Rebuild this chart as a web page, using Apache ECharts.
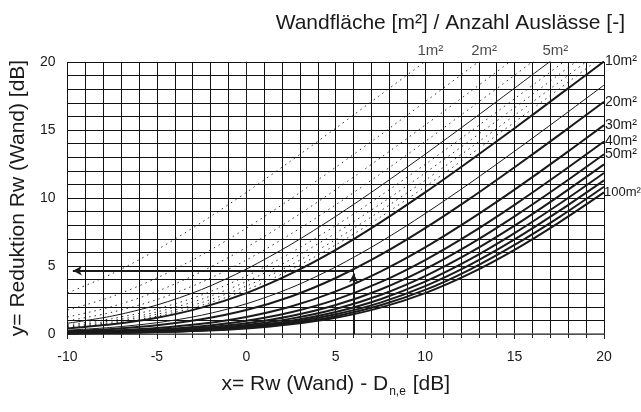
<!DOCTYPE html>
<html><head><meta charset="utf-8">
<script src="https://cdn.jsdelivr.net/npm/echarts/dist/echarts.min.js"></script>
<style>html,body{margin:0;padding:0;background:#fff}#c{width:641px;height:412px}</style>
</head><body><div id="c"></div>
<script>
// x = Rw(Wand) - Dn,e [dB]
const xValues = [-10, -7.5, -5, -2.5, 0, 2.5, 5, 7.5, 10, 12.5, 15, 17.5, 20];
// y = Reduktion [dB], one array per Wandfläche
const y1   = [3.01, 4.44, 6.19, 8.21, 10.41, 12.74, 15.13, 17.58, 20.04];
const y2   = [1.76, 2.76, 4.12, 5.81, 7.78, 9.95, 12.26, 14.64, 17.08, 19.54, 22.02];
const y3   = [1.25, 2.02, 3.13, 4.59, 6.37, 8.41, 10.62, 12.95, 15.36, 17.80, 20.27];
const y4   = [0.97, 1.60, 2.53, 3.81, 5.44, 7.36, 9.50, 11.78, 14.15, 16.58, 19.03, 21.51];
const y5   = [0.79, 1.32, 2.13, 3.27, 4.77, 6.59, 8.65, 10.88, 13.22, 15.63, 18.08, 20.55];
const y6   = [0.67, 1.13, 1.84, 2.87, 4.26, 5.98, 7.97, 10.16, 12.47, 14.86, 17.30, 19.76, 22.24];
const y7   = [0.58, 0.98, 1.62, 2.56, 3.85, 5.49, 7.42, 9.56, 11.84, 14.22, 16.64, 19.10, 21.58];
const y8   = [0.51, 0.87, 1.45, 2.31, 3.52, 5.08, 6.95, 9.05, 11.30, 13.66, 16.08, 18.53, 21.00];
const y9   = [0.46, 0.78, 1.31, 2.11, 3.24, 4.74, 6.55, 8.60, 10.83, 13.17, 15.58, 18.03, 20.50];
const y10  = [0.41, 0.71, 1.19, 1.94, 3.01, 4.44, 6.19, 8.21, 10.41, 12.74, 15.13, 17.58, 20.04];
const y15  = [0.28, 0.49, 0.83, 1.38, 2.22, 3.40, 4.93, 6.77, 8.85, 11.09, 13.44, 15.85, 18.30];
const y20  = [0.21, 0.37, 0.64, 1.08, 1.76, 2.76, 4.12, 5.81, 7.78, 9.95, 12.26, 14.64, 17.08];
const y30  = [0.14, 0.25, 0.44, 0.75, 1.25, 2.02, 3.13, 4.59, 6.37, 8.41, 10.62, 12.95, 15.36];
const y40  = [0.11, 0.19, 0.33, 0.57, 0.97, 1.60, 2.53, 3.81, 5.44, 7.36, 9.50, 11.78, 14.15];
const y50  = [0.09, 0.15, 0.27, 0.46, 0.79, 1.32, 2.13, 3.27, 4.77, 6.59, 8.65, 10.88, 13.22];
const y60  = [0.07, 0.13, 0.22, 0.39, 0.67, 1.13, 1.84, 2.87, 4.26, 5.98, 7.97, 10.16, 12.47];
const y70  = [0.06, 0.11, 0.19, 0.34, 0.58, 0.98, 1.62, 2.56, 3.85, 5.49, 7.42, 9.56, 11.84];
const y80  = [0.05, 0.10, 0.17, 0.30, 0.51, 0.87, 1.45, 2.31, 3.52, 5.08, 6.95, 9.05, 11.30];
const y90  = [0.05, 0.08, 0.15, 0.26, 0.46, 0.78, 1.31, 2.11, 3.24, 4.74, 6.55, 8.60, 10.83];
const y100 = [0.04, 0.08, 0.14, 0.24, 0.41, 0.71, 1.19, 1.94, 3.01, 4.44, 6.19, 8.21, 10.41];

const areas = [1, 2, 3, 4, 5, 6, 7, 8, 9, 10, 15, 20, 30, 40, 50, 60, 70, 80, 90, 100];
const curveValues = [y1, y2, y3, y4, y5, y6, y7, y8, y9, y10, y15, y20, y30, y40, y50, y60, y70, y80, y90, y100];
const dottedAreas = [1, 2, 3, 4, 6, 7, 8, 9];
const thinAreas = [5, 15];
const rightLabelAreas = [10, 20, 30, 40, 50, 100];
const topLabelAreas = [1, 2, 5];
const xTickLabels = ['-10', '-5', '0', '5', '10', '15', '20'];
const yTickLabels = ['0', '5', '10', '15', '20'];
// example arrow: x = 6 dB -> y about 4.65 dB (20 m² curve)
const exampleX = 6;
const exampleY = 4.65;

const FONT = 'Liberation Sans, Arial, sans-serif';
const INK = '#1a1a1a';

function lbl(a) { return a + 'm\u00b2'; }

const series = areas.map((a, i) => {
  const vals = curveValues[i];
  const dotted = dottedAreas.includes(a);
  const thin = thinAreas.includes(a);
  return {
    type: 'line',
    name: lbl(a),
    data: vals.map((v, j) => [xValues[j], v]),
    smooth: 0.3,
    symbol: 'none',
    clip: true,
    silent: true,
    z: dotted ? 2 : 3,
    lineStyle: {
      color: INK,
      width: dotted ? 0.9 : (thin ? 1 : 2),
      type: dotted ? [1.5, 4] : 'solid'
    },
    endLabel: rightLabelAreas.includes(a) ? {
      show: true, formatter: lbl(a), distance: a >= 100 ? 0 : 1,
      fontFamily: FONT, fontSize: a >= 100 ? 13 : 14, color: INK
    } : { show: false }
  };
});

// top labels: at the point where a curve leaves the top (y = 20), found from its data
function crossAt20(vals) {
  for (let j = 1; j < vals.length; j++) {
    if (vals[j] >= 20) {
      const t = (20 - vals[j - 1]) / (vals[j] - vals[j - 1]);
      return xValues[j - 1] + t * (xValues[j] - xValues[j - 1]);
    }
  }
  return xValues[vals.length - 1];
}
series.push({
  type: 'scatter',
  symbolSize: 0,
  silent: true,
  data: topLabelAreas.map(a => ({
    value: [crossAt20(curveValues[areas.indexOf(a)]), 20],
    label: { show: true, formatter: lbl(a) }
  })),
  label: { position: 'top', distance: 4, offset: [6, 0], fontFamily: FONT, fontSize: 15, color: INK }
});

// example arrows
series.push({
  type: 'line',
  data: [],
  silent: true,
  markLine: {
    silent: true,
    symbol: ['none', 'arrow'],
    symbolSize: [7, 9],
    label: { show: false },
    lineStyle: { color: INK, width: 2, type: 'solid' },
    data: [
      [{ coord: [exampleX, 0] }, { coord: [exampleX, exampleY - 0.2] }],
      [{ coord: [exampleX, exampleY] }, { coord: [xValues[0] + 0.3, exampleY] }]
    ]
  }
});

const chart = echarts.init(document.getElementById('c'), null, { renderer: 'canvas' });
chart.setOption({
  animation: false,
  backgroundColor: '#fff',
  title: {
    text: 'Wandfläche [m\u00b2] / Anzahl Auslässe [-]',
    right: 11, top: 8,
    textStyle: { fontFamily: FONT, fontSize: 21, fontWeight: 'normal', color: INK }
  },
  grid: { left: 66, right: 37, top: 62, bottom: 78, containLabel: false },
  xAxis: {
    type: 'value', min: -10, max: 20, interval: 5,
    name: '{a|x= Rw (Wand) - D}{s|n,e}{a| [dB]}',
    nameLocation: 'middle', nameGap: 37,
    nameTextStyle: {
      rich: {
        a: { fontFamily: FONT, fontSize: 21, color: INK },
        s: { fontFamily: FONT, fontSize: 12, color: INK, padding: [15, 1, 0, 1] }
      }
    },
    axisLine: { show: true, lineStyle: { color: '#666', width: 1.5 } },
    axisTick: { show: true, length: 5, lineStyle: { color: '#222' } },
    minorTick: { show: true, splitNumber: 5, length: 4, lineStyle: { color: '#222' } },
    splitLine: { show: true, lineStyle: { color: '#111', width: 1 } },
    minorSplitLine: { show: true, lineStyle: { color: '#111', width: 1 } },
    axisLabel: {
      margin: 16, fontFamily: FONT, fontSize: 14, color: INK,
      formatter: v => xTickLabels[Math.round((v + 10) / 5)]
    }
  },
  yAxis: {
    type: 'value', min: 0, max: 20, interval: 5,
    name: 'y= Reduktion Rw (Wand) [dB]',
    nameLocation: 'middle', nameGap: 37, nameRotate: 90,
    nameTextStyle: { fontFamily: FONT, fontSize: 21, color: INK },
    axisLine: { show: true, lineStyle: { color: '#222', width: 1 } },
    axisTick: { show: true, length: 6, lineStyle: { color: '#222' } },
    minorTick: { show: false, splitNumber: 5 },
    splitLine: { show: true, lineStyle: { color: '#111', width: 1 } },
    minorSplitLine: { show: true, lineStyle: { color: '#111', width: 1 } },
    axisLabel: {
      margin: 12, fontFamily: FONT, fontSize: 14, color: INK,
      formatter: v => yTickLabels[Math.round(v / 5)]
    }
  },
  series: series
});
</script>
</body></html>
